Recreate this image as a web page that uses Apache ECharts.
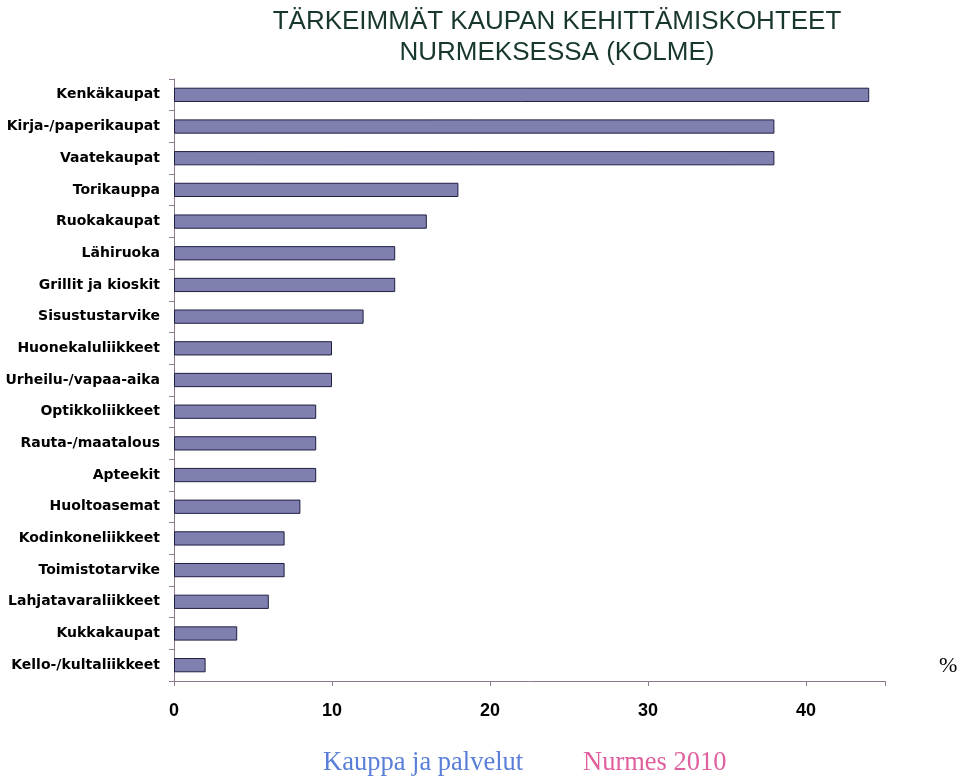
<!DOCTYPE html>
<html><head><meta charset="utf-8">
<script src="https://cdn.jsdelivr.net/npm/echarts@6/dist/echarts.min.js"></script>
<style>html,body{margin:0;padding:0;background:#fff}#c{width:960px;height:778px}</style>
</head><body><div id="c"></div>
<script>
const categories = ["Kenkäkaupat","Kirja-/paperikaupat","Vaatekaupat","Torikauppa","Ruokakaupat","Lähiruoka","Grillit ja kioskit","Sisustustarvike","Huonekaluliikkeet","Urheilu-/vapaa-aika","Optikkoliikkeet","Rauta-/maatalous","Apteekit","Huoltoasemat","Kodinkoneliikkeet","Toimistotarvike","Lahjatavaraliikkeet","Kukkakaupat","Kello-/kultaliikkeet"];
const values = [44,38,38,18,16,14,14,12,10,10,9,9,9,8,7,7,6,4,2];
const xTicks = [0,10,20,30,40];
const titleText = "TÄRKEIMMÄT KAUPAN KEHITTÄMISKOHTEET\nNURMEKSESSA (KOLME)";

const chart = echarts.init(document.getElementById('c'), null, {renderer:'canvas'});
const axisColor = '#8a7a8a';
chart.setOption({
  animation:false,
  backgroundColor:'#fff',
  title:{text:titleText,left:552,top:1,textAlign:'center',
    textStyle:{fontFamily:'Liberation Sans, Arial',fontSize:26,fontWeight:'normal',color:'#17382a',lineHeight:31}},
  grid:{left:174,right:75,top:79,bottom:97,containLabel:false},
  xAxis:{type:'value',min:0,max:45,interval:10,
    axisLine:{show:true,lineStyle:{color:axisColor,width:1}},
    axisTick:{show:true,length:5,lineStyle:{color:axisColor}},
    splitLine:{show:false},
    axisLabel:{margin:21,fontFamily:'Liberation Sans, Arial',fontSize:18,fontWeight:'bold',color:'#000',
      formatter:v=>xTicks.includes(v)?String(v):''}},
  yAxis:{type:'category',data:categories,inverse:true,
    axisLine:{show:true,lineStyle:{color:axisColor,width:1}},
    axisTick:{show:true,length:5,lineStyle:{color:axisColor}},
    axisLabel:{margin:14,padding:[4,0,0,0],fontFamily:'DejaVu Sans',fontSize:14,fontWeight:'bold',color:'#000'}},
  series:[{type:'bar',data:values,barWidth:'45%',
    itemStyle:{color:'#8080b0',borderColor:'#1e1e40',borderWidth:1}}],
  graphic:[
    {type:'text',left:939,top:655,style:{text:'%',font:'22px "Liberation Serif", "Times New Roman"',fill:'#000'}},
    {type:'text',left:323,top:750,style:{text:'Kauppa ja palvelut',font:'26.5px "Liberation Serif", "Times New Roman"',fill:'#5a7fd8'}},
    {type:'text',left:583,top:750,style:{text:'Nurmes 2010',font:'26.5px "Liberation Serif", "Times New Roman"',fill:'#e0609e'}}
  ]
});
</script></body></html>
